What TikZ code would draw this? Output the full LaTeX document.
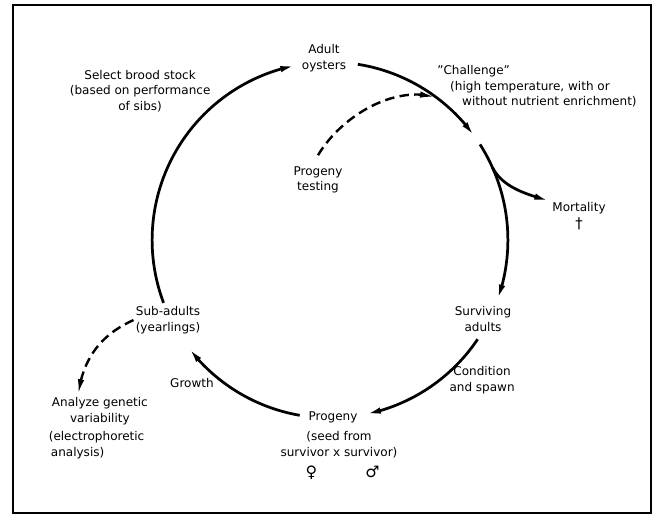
\documentclass[tikz,border=0pt]{standalone}
\usepackage{fontspec}
\setmainfont{DejaVu Sans}
\usetikzlibrary{arrows.meta,bending}

\begin{document}
\begin{tikzpicture}[
  lbl/.style={font=\fontsize{11.4}{14.8}\selectfont,align=center,inner sep=2pt},
  cyc/.style={line width=2.6pt},
  dsh/.style={line width=2.3pt,dash pattern=on 9pt off 5pt},
  >={Latex[length=15pt,width=6pt]}
]

  \useasboundingbox (-11,8) rectangle (10.8,-9.2);

  % frame
  \draw[line width=1.8pt] (-10.57,7.83) rectangle (10.7,-9.1);

  %% ===== stages round the cycle =====
  \node[lbl] (adult) at (-0.2,6.07) {Adult\\oysters};
  \node[lbl] (select) at (-6.33,4.97) {Select brood stock\\(based on performance\\of sibs)};
  \node[lbl,align=left,anchor=west] (challenge) at (3.5,5.12)
    {\char"22 Challenge\char"22\\\hspace*{0.43cm}(high temperature, with or\\\hspace*{0.83cm}without nutrient enrichment)};
  \node[lbl] (progtest) at (-0.4,2.0) {Progeny\\testing};
  \node[lbl] (mort) at (8.3,0.8) {Mortality\\[1pt]{\fontsize{14}{14}\selectfont †}};
  \node[lbl] (surv) at (5.1,-2.63) {Surviving\\adults};
  \node[lbl] (cond) at (5.07,-4.67) {Condition\\and spawn};
  \node[lbl] (progeny) at (0.1,-5.9) {Progeny};
  \node[lbl] (seed) at (0.3,-6.83) {(seed from\\survivor x survivor)};
  \node[lbl,font=\fontsize{15}{15}\selectfont] (sexes) at (0.42,-7.75) {♀\hspace{1.6cm}♂};
  \node[lbl] (growth) at (-4.6,-4.77) {Growth};
  \node[lbl] (subadult) at (-5.4,-2.67) {Sub-adults\\(yearlings)};
  \node[lbl] (analyze) at (-7.67,-5.7) {Analyze genetic\\variability};
  \node[lbl,align=left,anchor=west] (electro) at (-9.45,-6.83)
    {(electrophoretic\\\hspace*{2pt}analysis)};

  %% ===== the cycle (circle of radius 5.93 about the origin) =====
  \coordinate (sub-out)  at (200.7:5.93);
  \coordinate (adult-out) at (81:5.93);
  \coordinate (chal-out) at (32.5:5.93);
  \coordinate (mort-out) at (24:5.93);
  \coordinate (surv-out) at (-33.9:5.93);
  \coordinate (prog-out) at (260.2:5.93);
  \coordinate (ptest-in) at (53.5:5.93);

  \draw[cyc,->] (sub-out) arc[start angle=200.7,end angle=101,radius=5.93];
  \draw[cyc,->] (adult-out) arc[start angle=81,end angle=35.5,radius=5.93];
  \draw[cyc,->] (chal-out) arc[start angle=32.5,end angle=-19.8,radius=5.93];
  \draw[cyc,->] (surv-out) arc[start angle=-33.9,end angle=-78.6,radius=5.93];
  \draw[cyc,->] (prog-out) arc[start angle=260.2,end angle=217.3,radius=5.93];

  % losses after the challenge
  \draw[cyc,->] (mort-out) to[out=-62,in=163,looseness=0.9] (mort.153);

  %% ===== side branches (dashed) =====
  \draw[dsh,->] ([yshift=0.3cm]progtest.north) .. controls (0.36,4.1) and (2.08,5.16) .. (ptest-in);
  \draw[dsh,->] (subadult.west) to[out=204,in=82] (analyze.144);

\end{tikzpicture}
\end{document}
